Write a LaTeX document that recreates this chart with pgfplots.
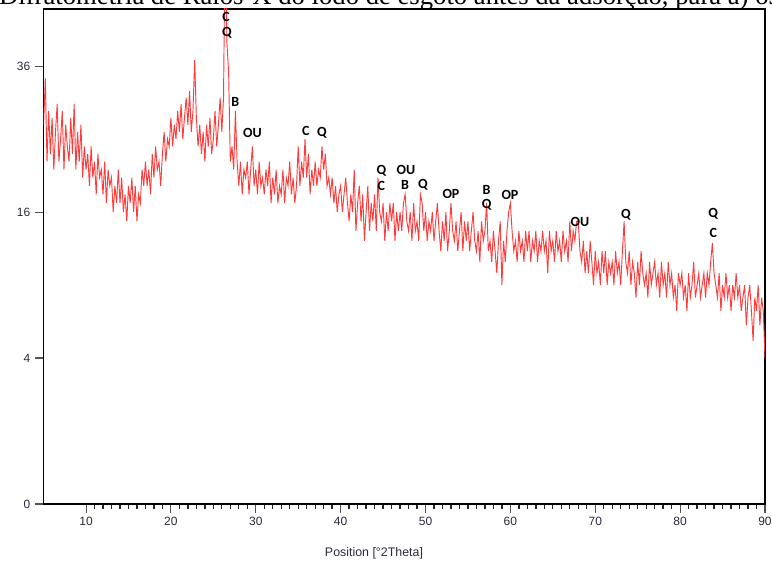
\documentclass[border=0pt]{standalone}
\usepackage{fontspec}
\setmainfont{Liberation Sans}
\newfontfamily\titlefont{Liberation Serif}
\newfontfamily\annfont{Carlito}
\usepackage{graphicx}
\usepackage{pgfplots}
\pgfplotsset{compat=1.18}
\definecolor{xrd}{RGB}{255,60,60}
\definecolor{tickgray}{RGB}{80,80,80}
\definecolor{lblc}{RGB}{40,40,60}
\begin{document}
\begin{tikzpicture}
\path[use as bounding box] (-32.7pt,-48pt) rectangle (546.3pt,378pt);
\clip (-32.7pt,-48pt) rectangle (546.3pt,378pt);
\node[anchor=base west, inner sep=0pt, font=\titlefont\fontsize{20}{24}\selectfont] at (-33.5pt,374.5pt) {Difratometria de Raios-X do lodo de esgoto antes da adsorção, para a) os};
\begin{axis}[at={(0pt,0pt)}, anchor=south west, scale only axis,
  width=541.05pt, height=371.25pt,
  xmin=5, xmax=90, ymin=0, ymax=46,
  y coord trafo/.code={\pgfmathparse{sqrt(#1)}},
  y coord inv trafo/.code={\pgfmathparse{(#1)^2}},
  ytick={0,4,16,36}, yticklabels={0,4,16,36},
  xtick={10,20,...,90}, minor x tick num=9,
  tick pos=left, tick align=outside,
  /pgf/number format/assume math mode=true,
  major tick length=6.5pt, minor tick length=4pt,
  tick style={line width=0.8pt, color=tickgray},
  minor tick style={line width=1pt, color=black!85},
  axis line style={line width=1.2pt, black},
  tick label style={font=\fontsize{9}{10}\selectfont, text=lblc},
  xlabel={Position [°2Theta]},
  xlabel style={at={(axis description cs:0.458,0)}, anchor=center, yshift=-36.75pt, font=\fontsize{9.3}{11}\selectfont, text=lblc},
]
\addplot[xrd, line width=0.7pt, mark=none] coordinates {
(5.0,27)(5.2,34)(5.4,22)(5.6,29)(5.8,23)
(6.0,28)(6.2,21)(6.4,26)(6.6,30)(6.8,22)
(7.0,25)(7.2,29)(7.4,21)(7.6,27)(7.8,24)
(8.0,22)(8.2,28)(8.4,23)(8.6,30)(8.8,21)
(9.0,26)(9.2,22)(9.4,27)(9.6,20)(9.8,24)
(10.0,21)(10.2,23)(10.4,19)(10.6,24)(10.8,20)
(11.0,22)(11.2,18)(11.4,23)(11.6,20)(11.8,21)
(12.0,18)(12.2,22)(12.4,17)(12.6,21)(12.8,19)
(13.0,20)(13.2,16)(13.4,19)(13.6,17)(13.8,21)
(14.0,17)(14.2,20)(14.4,16)(14.6,18)(14.8,15)
(15.0,19)(15.2,17)(15.4,20)(15.6,16)(15.8,19)
(16.0,15)(16.2,18)(16.4,17)(16.6,21)(16.8,19)
(17.0,22)(17.2,19)(17.4,21)(17.6,18)(17.8,23)
(18.0,20)(18.2,24)(18.4,21)(18.6,22)(18.8,19)
(19.0,23)(19.2,26)(19.4,22)(19.6,25)(19.8,24)
(20.0,28)(20.2,24)(20.4,27)(20.6,25)(20.8,29)
(21.0,26)(21.2,30)(21.4,25)(21.6,28)(21.8,31)
(22.0,27)(22.2,32)(22.4,26)(22.6,29)(22.8,37)
(23.0,28)(23.2,24)(23.4,27)(23.6,23)(23.8,26)
(24.0,22)(24.2,27)(24.4,24)(24.6,28)(24.8,23)
(25.0,25)(25.2,29)(25.4,24)(25.6,27)(25.8,31)
(26.0,26)(26.2,31)(26.4,62)(26.6,40)(26.8,35)
(27.0,22)(27.2,24)(27.4,21)(27.6,29)(27.8,22)
(28.0,19)(28.2,22)(28.4,18)(28.6,21)(28.8,20)
(29.0,22)(29.2,18)(29.4,21)(29.6,24)(29.8,19)
(30.0,21)(30.2,18)(30.4,22)(30.6,19)(30.8,20)
(31.0,18)(31.2,21)(31.4,19)(31.6,22)(31.8,17)
(32.0,20)(32.2,18)(32.4,21)(32.6,17)(32.8,19)
(33.0,18)(33.2,21)(33.4,17)(33.6,20)(33.8,19)
(34.0,22)(34.2,18)(34.4,20)(34.6,17)(34.8,19)
(35.0,24)(35.2,19)(35.4,22)(35.6,20)(35.8,25)
(36.0,20)(36.2,23)(36.4,18)(36.6,21)(36.8,19)
(37.0,22)(37.2,19)(37.4,21)(37.6,20)(37.8,24)
(38.0,21)(38.2,23)(38.4,19)(38.6,20)(38.8,18)
(39.0,20)(39.2,17)(39.4,19)(39.6,16)(39.8,18)
(40.0,19)(40.2,16)(40.4,18)(40.6,20)(40.8,17)
(41.0,15)(41.2,18)(41.4,16)(41.6,21)(41.8,14)
(42.0,17)(42.2,19)(42.4,15)(42.6,18)(42.8,13)
(43.0,16)(43.2,19)(43.4,14)(43.6,17)(43.8,15)
(44.0,18)(44.2,14)(44.4,20)(44.6,16)(44.8,15)
(45.0,17)(45.2,13)(45.4,16)(45.6,14)(45.8,17)
(46.0,15)(46.2,17)(46.4,13)(46.6,16)(46.8,14)
(47.0,16)(47.2,14)(47.4,17)(47.6,18)(47.8,15)
(48.0,14)(48.2,16)(48.4,13)(48.6,17)(48.8,14)
(49.0,15)(49.2,13)(49.4,18)(49.6,17)(49.8,14)
(50.0,16)(50.2,13)(50.4,15)(50.6,14)(50.8,16)
(51.0,13)(51.2,15)(51.4,17)(51.6,14)(51.8,12)
(52.0,15)(52.2,13)(52.4,16)(52.6,12)(52.8,14)
(53.0,17)(53.2,14)(53.4,13)(53.6,15)(53.8,12)
(54.0,14)(54.2,16)(54.4,12)(54.6,15)(54.8,13)
(55.0,15)(55.2,12)(55.4,14)(55.6,16)(55.8,13)
(56.0,12)(56.2,14)(56.4,11)(56.6,15)(56.8,13)
(57.0,14)(57.2,17)(57.4,12)(57.6,13)(57.8,11)
(58.0,14)(58.2,12)(58.4,10)(58.6,13)(58.8,15)
(59.0,9)(59.2,13)(59.4,11)(59.6,14)(59.8,16)
(60.0,17)(60.2,14)(60.4,12)(60.6,13)(60.8,11)
(61.0,14)(61.2,12)(61.4,13)(61.6,11)(61.8,14)
(62.0,12)(62.2,14)(62.4,11)(62.6,13)(62.8,12)
(63.0,14)(63.2,11)(63.4,13)(63.6,12)(63.8,14)
(64.0,12)(64.2,13)(64.4,10)(64.6,14)(64.8,12)
(65.0,13)(65.2,11)(65.4,14)(65.6,12)(65.8,13)
(66.0,11)(66.2,14)(66.4,12)(66.6,13)(66.8,11)
(67.0,15)(67.2,12)(67.4,14)(67.6,13)(67.8,15)
(68.0,15)(68.2,12)(68.4,11)(68.6,13)(68.8,10)
(69.0,12)(69.2,10)(69.4,13)(69.6,11)(69.8,9)
(70.0,12)(70.2,10)(70.4,11)(70.6,9)(70.8,12)
(71.0,10)(71.2,12)(71.4,9)(71.6,11)(71.8,10)
(72.0,11)(72.2,9)(72.4,12)(72.6,10)(72.8,11)
(73.0,9)(73.2,12)(73.4,15)(73.6,11)(73.8,10)
(74.0,12)(74.2,9)(74.4,11)(74.6,10)(74.8,8)
(75.0,11)(75.2,9)(75.4,12)(75.6,10)(75.8,9)
(76.0,10)(76.2,8)(76.4,11)(76.6,9)(76.8,10)
(77.0,11)(77.2,9)(77.4,10)(77.6,8)(77.8,11)
(78.0,9)(78.2,10)(78.4,8)(78.6,11)(78.8,9)
(79.0,10)(79.2,8)(79.4,9)(79.6,7)(79.8,10)
(80.0,9)(80.2,10)(80.4,8)(80.6,9)(80.8,7)
(81.0,10)(81.2,8)(81.4,9)(81.6,11)(81.8,8)
(82.0,9)(82.2,10)(82.4,8)(82.6,9)(82.8,10)
(83.0,8)(83.2,10)(83.4,9)(83.6,11)(83.8,12.8)
(84.0,10)(84.2,9)(84.4,8)(84.6,10)(84.8,7)
(85.0,9)(85.2,8)(85.4,10)(85.6,8)(85.8,9)
(86.0,7)(86.2,9)(86.4,8)(86.6,10)(86.8,8)
(87.0,9)(87.2,7)(87.4,8)(87.6,9)(87.8,6)
(88.0,8)(88.2,9)(88.4,7)(88.6,5)(88.8,8)
(89.0,7)(89.2,9)(89.4,6)(89.6,8)(89.8,7)
(90.0,4)
};
\addplot[xrd, only marks, mark=|, mark size=1.6pt, mark options={line width=0.6pt}] coordinates {
(7.76,46)(17.83,46)(22.96,46)(26.37,46)(34.97,46)(35.88,46)(37.88,46)(46.28,46)(47.76,46)(49.70,46)(53.08,46)(55.0,46)(55.7,46)(57.24,46)(59.95,46)(68.9,46)(73.7,46)(83.87,46)
};
\tikzset{ann/.style={font=\annfont\bfseries\fontsize{10.5}{12}\selectfont, inner sep=0pt, text=black}}
\node[ann] at (axis cs:26.5,44.5) {C};
\node[ann] at (axis cs:26.6,41.6) {Q};
\node[ann] at (axis cs:27.6,30.3) {B};
\node[ann] at (axis cs:29.6,25.8) {OU};
\node[ann] at (axis cs:35.9,26.1) {C};
\node[ann] at (axis cs:37.8,25.8) {Q};
\node[ann] at (axis cs:44.8,20.8) {Q};
\node[ann] at (axis cs:44.8,19.0) {C};
\node[ann] at (axis cs:47.7,20.9) {OU};
\node[ann] at (axis cs:47.6,19.1) {B};
\node[ann] at (axis cs:49.7,19.1) {Q};
\node[ann] at (axis cs:53.0,18.0) {OP};
\node[ann] at (axis cs:57.2,18.5) {B};
\node[ann] at (axis cs:57.2,16.8) {Q};
\node[ann] at (axis cs:59.95,17.9) {OP};
\node[ann] at (axis cs:68.2,14.9) {OU};
\node[ann] at (axis cs:73.6,15.7) {Q};
\node[ann] at (axis cs:83.9,15.8) {Q};
\node[ann] at (axis cs:83.9,13.8) {C};
\end{axis}
\end{tikzpicture}
\end{document}
